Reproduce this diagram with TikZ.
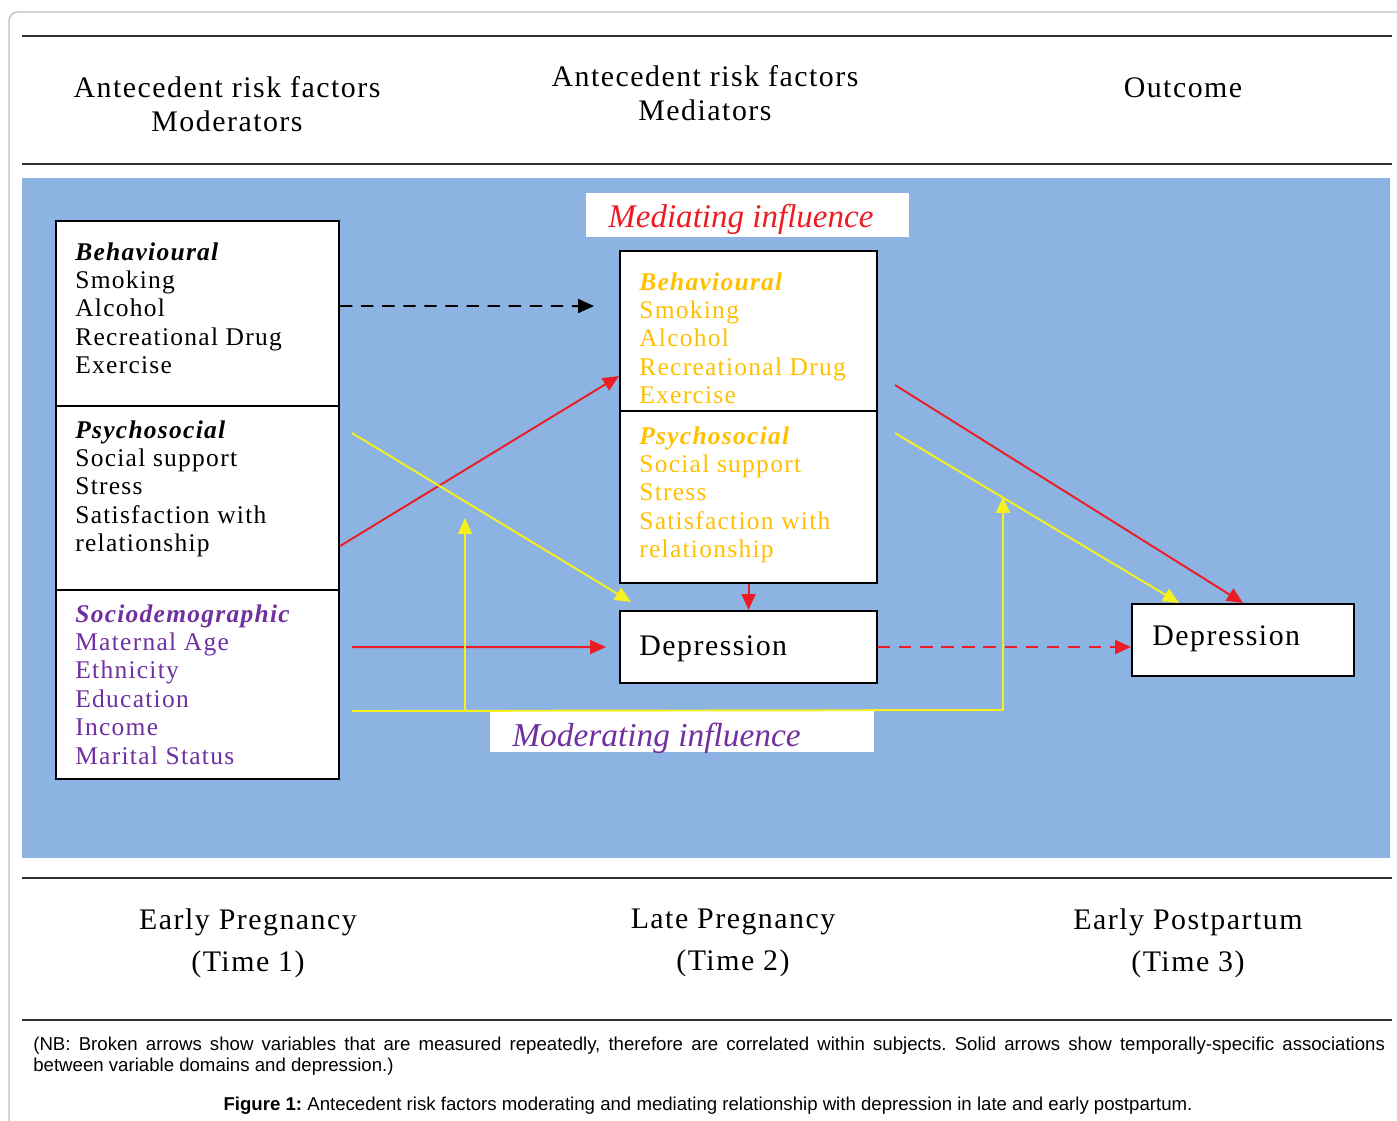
\documentclass[tikz,border=0pt]{standalone}
\usepackage{fontspec}
\setmainfont{Liberation Serif}
\newfontfamily\wf[LetterSpace=5]{Liberation Serif}
\newfontfamily\ar{Liberation Sans}
\usetikzlibrary{arrows.meta,calc}
\definecolor{bgblue}{RGB}{141,179,226}
\definecolor{purp}{RGB}{112,48,160}
\definecolor{gold}{RGB}{255,192,0}
\definecolor{myred}{RGB}{235,28,36}
\definecolor{myyel}{RGB}{245,240,30}
\frenchspacing
\begin{document}
\begin{tikzpicture}[x=0.02cm,y=-0.02cm,
  box/.style={draw=black, line width=1.2pt, fill=white, inner sep=0pt, anchor=north west},
  lbl/.style={fill=white, inner sep=0pt, anchor=north west},
  txt/.style={anchor=north west, inner sep=0pt, align=left, font=\wf\fontsize{14.5}{16.2}\selectfont},
  hd/.style={align=center, inner sep=0pt, font=\wf\fontsize{17}{19.3}\selectfont},
  ft/.style={align=center, inner sep=0pt, font=\wf\fontsize{17}{23.8}\selectfont},
  dep/.style={anchor=base west, inner sep=0pt, font=\wf\fontsize{17}{19}\selectfont},
  hline/.style={draw=black!80, line width=1.3pt},
  arr/.style={line width=1.1pt, -{Triangle[length=0.32cm,width=0.28cm]}},
  ln/.style={line width=1.1pt}]
\useasboundingbox (0,0) rectangle (1397,1121);
% frame
\draw[black!25, line width=0.8pt, rounded corners=5pt] (9,1130) -- (9,12) -- (1405,12);
% rules
\draw[hline] (22,36) -- (1392,36);
\draw[hline] (22,164) -- (1392,164);
\draw[hline] (22,878) -- (1392,878);
\draw[hline] (22,1020) -- (1392,1020);
% headers
\node[hd] (h1) at (227,104) {Antecedent risk factors\\Moderators};
\node[hd] (h2) at (705,93) {Antecedent risk factors\\Mediators};
\node[hd] (h3) at (1183,88) {Outcome};
% background
\fill[bgblue] (22,178) rectangle (1390,858);
% left boxes
\node[box, minimum width=5.66cm, minimum height=3.7cm] (b1) at (55,220) {};
\node[box, minimum width=5.66cm, minimum height=3.68cm] (b2) at (55,405) {};
\node[box, minimum width=5.66cm, minimum height=3.78cm] (b3) at (55,589) {};
\node[txt] (t1) at (75,242) {{\bfseries\itshape Behavioural}\\Smoking\\Alcohol\\Recreational Drug\\Exercise};
\node[txt] (t2) at (75,420) {{\bfseries\itshape Psychosocial}\\Social support\\Stress\\Satisfaction with\\relationship};
\node[txt, text=purp] (t3) at (75,604) {{\bfseries\itshape Sociodemographic}\\Maternal Age\\Ethnicity\\Education\\Income\\Marital Status};
% mediator boxes
\node[lbl, minimum width=6.46cm, minimum height=0.88cm] (ml) at (586,193) {};
\node[anchor=base west, inner sep=0pt, text=myred, font=\itshape\fontsize{18.8}{20}\selectfont] (mlt) at (608,228) {Mediating influence};
\node[box, minimum width=5.14cm, minimum height=3.2cm] (m1) at (619,250) {};
\node[box, minimum width=5.14cm, minimum height=3.44cm] (m2) at (619,410) {};
\node[txt, text=gold] (t4) at (639,272) {{\bfseries\itshape Behavioural}\\Smoking\\Alcohol\\Recreational Drug\\Exercise};
\node[txt, text=gold] (t5) at (639,426) {{\bfseries\itshape Psychosocial}\\Social support\\Stress\\Satisfaction with\\relationship};
% depression boxes
\node[box, minimum width=5.14cm, minimum height=1.44cm] (d2) at (619,610) {};
\node[dep] (d2t) at (639,656) {Depression};
\node[box, minimum width=4.44cm, minimum height=1.44cm] (d3) at (1131,603) {};
\node[dep] (d3t) at (1152,646) {Depression};
% moderating label
\node[lbl, minimum width=7.68cm, minimum height=0.82cm] (mo) at (490,711) {};
\node[anchor=base west, inner sep=0pt, text=purp, font=\itshape\fontsize{19}{20}\selectfont] (mot) at (512,746) {Moderating influence};
% coordinates
\coordinate (dashend) at ($(m1.west)+(-25,-25)$);
\coordinate (ys1) at ($(b2.east)+(12,-65)$);
\coordinate (rs2) at ($(b3.east)+(12,-37.5)$);
\coordinate (ms) at ($(b3.east)+(12,26.5)$);
\coordinate (mc) at (1003,710);
\coordinate (mt) at (1003,497);
\coordinate (mb) at (465,710);
\coordinate (mbt) at (465,518);
% connectors
\draw[arr, dashed, dash pattern=on 7pt off 5pt, black] ($(b1.east)+(0,-7.5)$) -- (dashend);
\draw[arr, myred] ($(b2.east)+(0,48)$) -- ($(m1.west)+(0,45)$);
\draw[arr, myyel] (ys1) -- ($(d2.north west)+(12,-8)$);
\draw[arr, myred] (rs2) -- ($(d2.west)+(-13,0)$);
\draw[ln, myyel] (ms) -- (mc);
\draw[arr, myyel] (mc) -- (mt);
\draw[arr, myyel] (mb) -- (mbt);
\draw[arr, myred] (m2.south) -- (d2.north);
\draw[arr, myred, dash pattern=on 7pt off 5pt] (d2.east) -- (d2.east -| d3.west);
\draw[arr, myred] ($(m1.east)+(17,54)$) -- (d3.north);
\draw[arr, myyel] ($(m2.east)+(17,-64)$) -- ($(d3.north)+(-64,0)$);
% footer
\node[ft] (f1) at (248,943) {Early Pregnancy\\(Time 1)};
\node[ft] (f2) at (733,943) {Late Pregnancy\\(Time 2)};
\node[ft] (f3) at (1188,943) {Early Postpartum\\(Time 3)};
\node[anchor=north west, inner sep=0pt, text width=27.04cm, align=justify, font=\ar\fontsize{10.6}{11.9}\selectfont] (nb) at (33,1037) {(NB: Broken arrows show variables that are measured repeatedly, therefore are correlated within subjects. Solid arrows show temporally-specific associations\linebreak between variable domains and depression.)};
\node[inner sep=0pt, font=\ar\fontsize{10.6}{12}\selectfont] (cap) at (708,1106) {\textbf{Figure 1:} Antecedent risk factors moderating and mediating relationship with depression in late and early postpartum.};
\end{tikzpicture}
\end{document}
